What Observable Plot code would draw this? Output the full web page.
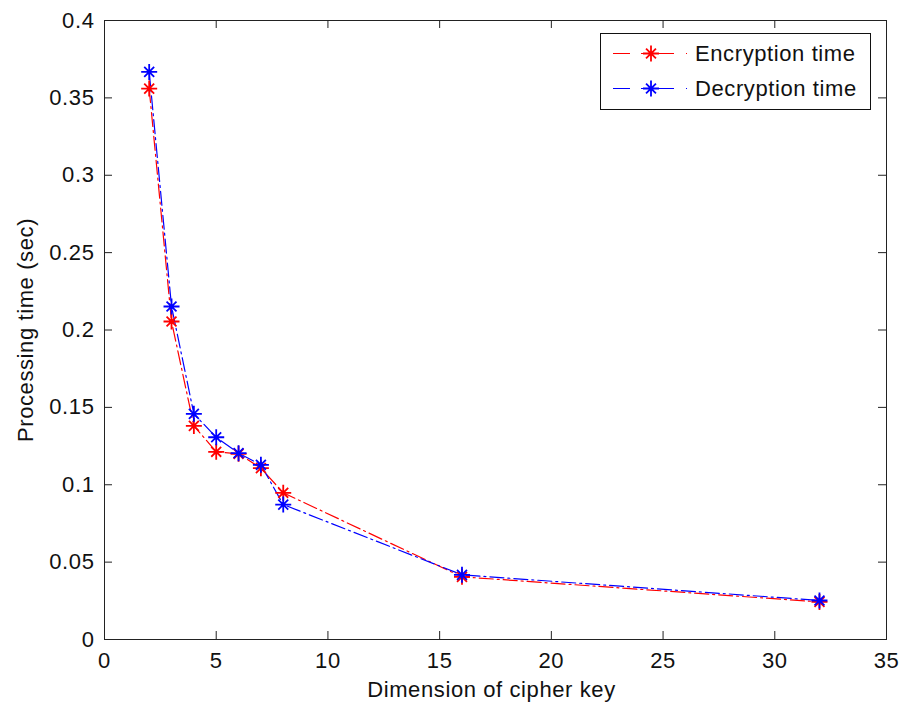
<!DOCTYPE html>
<html><head><meta charset="utf-8">
<script src="https://cdn.jsdelivr.net/npm/d3@7"></script>
<script src="https://cdn.jsdelivr.net/npm/@observablehq/plot@0.6"></script>
<style>
body{margin:0;background:#fff;}
#wrap{position:relative;width:903px;height:704px;}
#wrap svg{font-family:"Liberation Sans",Arial,sans-serif;}
#legend{position:absolute;left:0;top:0;pointer-events:none;}
</style></head><body><div id="wrap"></div>
<script>
const keyDims = [2, 3, 4, 5, 6, 7, 8, 16, 32];
const encryptionTime = [0.356, 0.2055, 0.138, 0.1213, 0.1200, 0.1107, 0.0948, 0.0405, 0.0243];
const decryptionTime = [0.3668, 0.2152, 0.1458, 0.1307, 0.1204, 0.1129, 0.0872, 0.0418, 0.0252];
const seriesNames = ["Encryption time", "Decryption time"];
const seriesColors = ["#ff0000", "#0000ff"];
const xTicks = [0, 5, 10, 15, 20, 25, 30, 35];
const yTicks = [0, 0.05, 0.1, 0.15, 0.2, 0.25, 0.3, 0.35, 0.4];
const xLabel = "Dimension of cipher key";
const yLabel = "Processing time (sec)";

const W = 903, H = 704, mL = 104, mR = 17, mT = 20, mB = 65;
const frameW = W - mL - mR, frameH = H - mT - mB, tickLen = 8;

const series = [encryptionTime, decryptionTime].map((vals, i) =>
  keyDims.map((x, j) => ({x, y: vals[j], name: seriesNames[i]})));

const matlabStar = {
  draw(ctx, size) {
    const r = Math.sqrt(size / Math.PI), d = r * 0.62;
    ctx.moveTo(-r, 0); ctx.lineTo(r, 0);
    ctx.moveTo(0, -r); ctx.lineTo(0, r);
    ctx.moveTo(-d, -d); ctx.lineTo(d, d);
    ctx.moveTo(-d, d); ctx.lineTo(d, -d);
  }
};
const fmt = d => String(+d.toFixed(2));
const axisColor = "#222";
const dash = "14,4,2,4";

const marks = [
  Plot.frame({stroke: axisColor, strokeWidth: 1}),
  // inward tick marks on all four sides (MATLAB box style)
  Plot.ruleX(xTicks, {x: d => d, insetTop: frameH - tickLen, stroke: axisColor}),
  Plot.ruleX(xTicks, {x: d => d, insetBottom: frameH - tickLen, stroke: axisColor}),
  Plot.ruleY(yTicks, {y: d => d, insetRight: frameW - tickLen, stroke: axisColor}),
  Plot.ruleY(yTicks, {y: d => d, insetLeft: frameW - tickLen, stroke: axisColor}),
  Plot.axisX({ticks: xTicks, tickSize: 0, tickPadding: 13, tickFormat: fmt, label: null, fill: "#111", lineAnchor: "top"}),
  Plot.axisY({ticks: yTicks, tickSize: 0, tickPadding: 10, tickFormat: fmt, label: null, fill: "#111"}),
];
series.forEach((s, i) => {
  marks.push(Plot.line(s, {x: "x", y: "y", stroke: seriesColors[i], strokeWidth: 1.2, strokeDasharray: dash}));
});
series.forEach((s, i) => {
  marks.push(Plot.dot(s, {x: "x", y: "y", symbol: matlabStar, r: 8, stroke: seriesColors[i], fill: "none", strokeWidth: 1.8}));
});
marks.push(Plot.text([xLabel], {text: d => d, frameAnchor: "bottom", textAnchor: "middle", lineAnchor: "top", dy: 42, dx: -4, fill: "#111"}));
marks.push(Plot.text([yLabel], {text: d => d, frameAnchor: "left", textAnchor: "middle", rotate: -90, dx: -79, fill: "#111"}));

const chart = Plot.plot({
  width: W, height: H,
  marginLeft: mL, marginRight: mR, marginTop: mT, marginBottom: mB,
  style: {fontSize: "22px", letterSpacing: "0.6px", fontFamily: "'Liberation Sans', Arial, sans-serif", background: "#fff"},
  x: {domain: [0, 35], label: null},
  y: {domain: [0, 0.4], label: null},
  marks
});
document.getElementById("wrap").appendChild(chart);

// Legend box (MATLAB style) overlaid in the upper-right of the axes
const lg = d3.select("#wrap").append("svg").attr("id", "legend")
  .attr("width", W).attr("height", H)
  .style("font-family", "'Liberation Sans', Arial, sans-serif")
  .style("font-size", "22px").style("letter-spacing", "0.6px");
lg.append("rect").attr("x", 600.5).attr("y", 33.5).attr("width", 270).attr("height", 76)
  .attr("fill", "#fff").attr("stroke", "#111").attr("stroke-width", 1);
const rowsY = [53, 88];
seriesNames.forEach((name, i) => {
  const g = lg.append("g").attr("transform", `translate(0,${rowsY[i]})`);
  g.append("line").attr("x1", 613).attr("x2", 688).attr("y1", 0.5).attr("y2", 0.5)
    .attr("stroke", seriesColors[i]).attr("stroke-width", 1.2).attr("stroke-dasharray", "17,11,33,12,1,100");
  const p = d3.path(); matlabStar.draw(p, 8 * 8 * Math.PI);
  g.append("path").attr("d", p.toString()).attr("transform", "translate(651,0.5)")
    .attr("stroke", seriesColors[i]).attr("stroke-width", 1.8).attr("fill", "none");
  g.append("text").attr("x", 695).attr("y", 0).attr("dy", "0.36em").attr("fill", "#111").text(name);
});
</script></body></html>
